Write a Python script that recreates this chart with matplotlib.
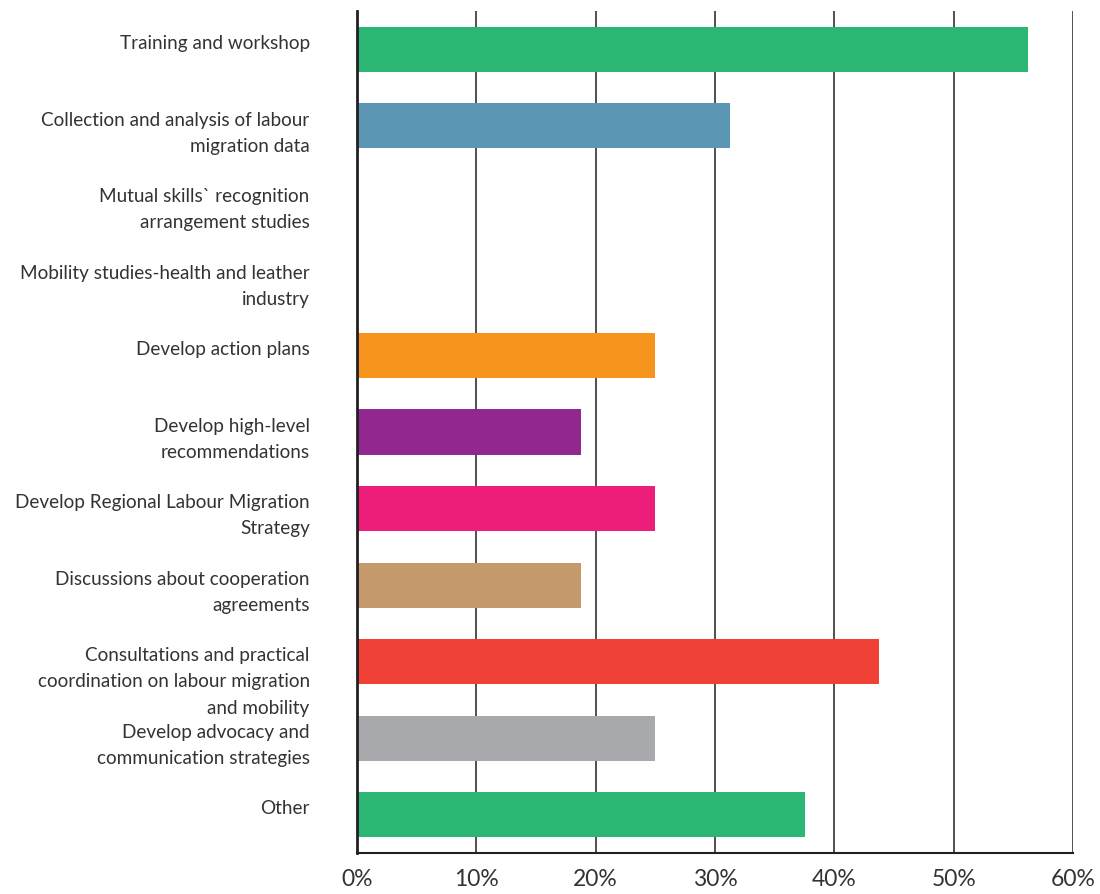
import matplotlib.pyplot as plt
from matplotlib.ticker import FuncFormatter
from matplotlib.transforms import ScaledTranslation

plt.rcParams['font.family'] = ['Lato', 'DejaVu Sans']

categories = [
    "Training and workshop",
    "Collection and analysis of labour\nmigration data",
    "Mutual skills` recognition\narrangement studies",
    "Mobility studies-health and leather\nindustry",
    "Develop action plans",
    "Develop high-level\nrecommendations",
    "Develop Regional Labour Migration\nStrategy",
    "Discussions about cooperation\nagreements",
    "Consultations and practical\ncoordination on labour migration\nand mobility",
    "Develop advocacy and\ncommunication strategies",
    "Other",
]
values = [56.25, 31.25, 0, 0, 25, 18.75, 25, 18.75, 43.75, 25, 37.5]
colors = ["#2bb673", "#5b96b4", "#2bb673", "#2bb673", "#f7941e", "#92278f",
          "#ed1e79", "#c49a6c", "#ef4136", "#a7a9ac", "#2bb673"]

fig = plt.figure(figsize=(11, 8.95), dpi=100)
ax = fig.add_axes([0.3245, 0.0458, 0.651, 0.9408])

pos = list(range(len(categories)))
ax.barh(pos, values, height=0.59, color=colors, zorder=2)

ax.set_xlim(0, 60)
ax.set_ylim(len(categories) - 0.5, -0.5)
ax.set_xticks(range(0, 61, 10))
ax.xaxis.set_major_formatter(FuncFormatter(lambda v, p: f"{v:.0f}%"))
ax.grid(axis='x', color='#231f20', linewidth=1.1, zorder=1)
ax.set_yticks(pos)
ax.set_yticklabels(categories, fontsize=13.6, color='#333333', linespacing=1.65)
ax.tick_params(axis='y', length=0, pad=34)
ax.tick_params(axis='x', length=0, pad=11, labelsize=16.5, labelcolor='#333333')

# first line of each label sits a little above the bar centre
shift = ScaledTranslation(0, 11 / 72, fig.dpi_scale_trans)
for lab in ax.get_yticklabels():
    lab.set_va('top')
    lab.set_transform(lab.get_transform() + shift)

ax.spines['top'].set_visible(False)
ax.spines['right'].set_visible(False)
ax.spines['left'].set_color('#231f20')
ax.spines['left'].set_linewidth(2)
ax.spines['left'].set_zorder(3)
ax.spines['bottom'].set_color('#231f20')
ax.spines['bottom'].set_linewidth(1.5)

fig.savefig("out.png", dpi=100)
